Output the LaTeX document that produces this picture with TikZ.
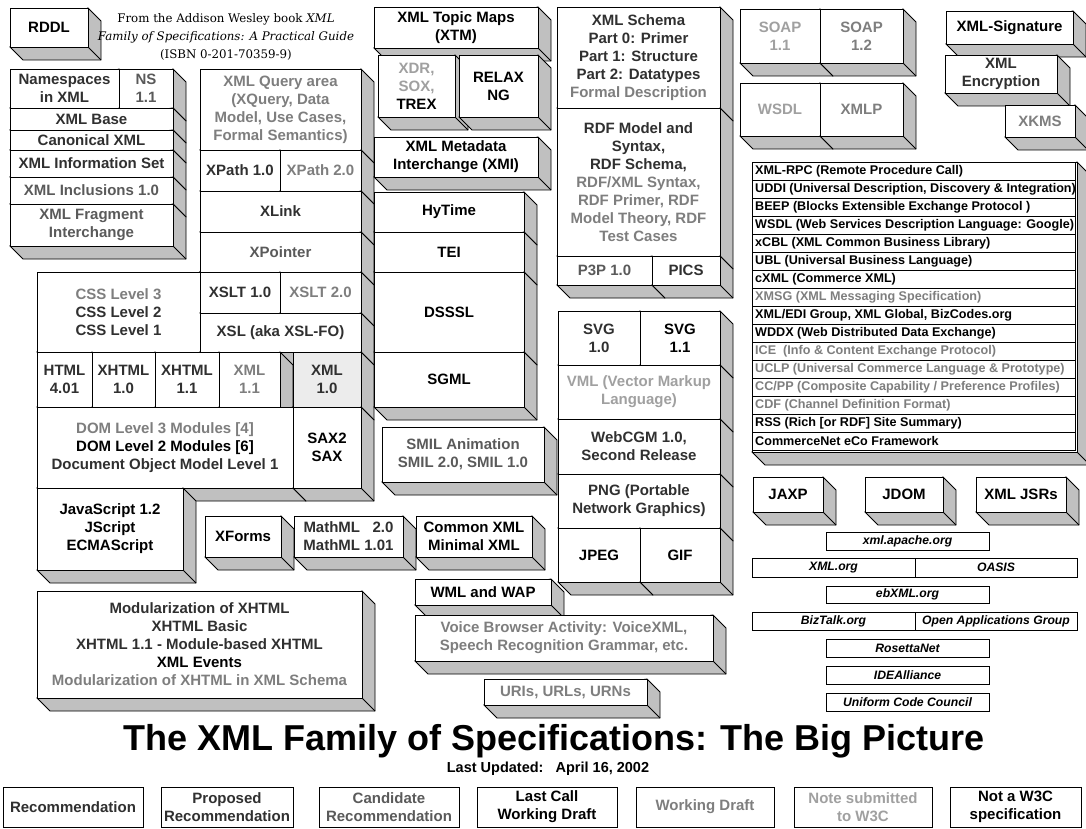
\documentclass[tikz,border=0pt]{standalone}
\usepackage{fontspec}
\setmainfont{Liberation Sans}
\newfontfamily\serifx{DejaVu Serif}
\definecolor{sidegray}{HTML}{C0C0C0}
\definecolor{rec}{HTML}{303030}
\definecolor{cand}{HTML}{5A5A5A}
\definecolor{wd}{HTML}{7E7E7E}
\definecolor{note}{HTML}{A0A0A0}
\definecolor{stip}{HTML}{ECECEC}
\newcommand\bfx{\fontsize{15}{18}\selectfont\bfseries}
\def\dd{13}
\tikzset{
  side/.style={fill=sidegray,draw=black,line width=0.9pt,line join=miter},
  edge/.style={draw=black,line width=0.9pt},
  face/.style={draw=black,fill=white,line width=0.9pt,anchor=north west,inner sep=1pt,outer sep=0pt,align=center,font=\bfx,text=black},
  flat/.style={draw=black,fill=white,line width=0.9pt,anchor=north west,inner sep=1pt,outer sep=0pt,align=center},
  orgtxt/.style={font=\fontsize{12.2}{14}\selectfont\bfseries\itshape},
  listtxt/.style={anchor=west,inner sep=0pt,font=\fontsize{12.6}{15}\selectfont\bfseries},
  rowline/.style={draw=black,line width=0.9pt}
}
\newcommand\cubebox[7][]{%
  \filldraw[side] (#5,#4) -- (#5+\dd,#4+\dd) -- (#5+\dd,#6+\dd) -- (#3+\dd,#6+\dd) -- (#3,#6) -- cycle;
  \draw[edge] (#5,#6) -- (#5+\dd,#6+\dd);
  \node[face,minimum width={(#5-#3)*1pt},minimum height={(#6-#4)*1pt},#1] (#2) at (#3,#4) {#7};
}
\newcommand\orgbox[6]{%
  \node[flat,orgtxt,minimum width={(#4-#2)*1pt},minimum height={(#5-#3)*1pt}] (#1) at (#2,#3) {#6};
}
\newcommand\legbox[5]{%
  \node[flat,font=\bfx,text=#4,minimum width={(#3-#2)*1pt},minimum height=40pt] (#1) at (#2,787) {#5};
}
\newcommand\lrow[4]{%
  \draw[rowline] (752,{162+18*#2}) rectangle (1075,{180+18*#2});
  \node[listtxt,text=#3] (#1) at (755,{171+18*#2}) {#4};
}
\begin{document}
\begin{tikzpicture}[x=1pt,y=-1pt]
\useasboundingbox[fill=white] (0,0) rectangle (1086,829);

% header
\cubebox{rddl}{10}{8}{88}{47}{RDDL}
\node[font=\serifx\fontsize{11.8}{18}\selectfont,align=center] (source) at (226,37)
  {From the Addison Wesley book \textit{XML}\\\textit{Family of Specifications: A Practical Guide}\\(ISBN 0-201-70359-9)};

% namespaces stack
\cubebox[text=rec]{ns}{10}{69}{119}{108}{Namespaces\\in XML}
\cubebox[text=cand]{ns11}{119}{69}{173}{108}{NS\\1.1}
\cubebox[text=rec]{base}{10}{108}{173}{130}{XML Base}
\cubebox[text=rec]{c14n}{10}{130}{173}{150}{Canonical XML}
\cubebox[text=rec]{infoset}{10}{150}{173}{177}{XML Information Set}
\cubebox[text=cand]{xinc}{10}{177}{173}{204}{XML Inclusions 1.0}
\cubebox[text=cand]{frag}{10}{204}{173}{246}{XML Fragment\\Interchange}

% query / xpath column and left block
\cubebox[text=wd]{xquery}{200}{69}{361}{150}{XML Query area\\(XQuery, Data\\Model, Use Cases,\\Formal Semantics)}
\cubebox[text=rec]{xpath1}{200}{150}{280}{191}{XPath 1.0}
\cubebox[text=wd]{xpath2}{280}{150}{361}{191}{XPath 2.0}
\cubebox[text=rec]{xlink}{200}{191}{361}{232}{XLink}
\cubebox[text=cand]{xpointer}{200}{232}{361}{272}{XPointer}
\cubebox[text=rec]{css}{37}{272}{200}{352}{\textcolor{wd}{CSS Level 3}\\CSS Level 2\\CSS Level 1}
\cubebox[text=rec]{xslt1}{200}{272}{280}{313}{XSLT 1.0}
\cubebox[text=wd]{xslt2}{280}{272}{361}{313}{XSLT 2.0}
\cubebox[text=rec]{xsl}{200}{313}{361}{352}{XSL (aka XSL-FO)}
\cubebox[text=rec]{html}{37}{352}{92}{407}{HTML\\4.01}
\cubebox[text=rec]{xhtml10}{92}{352}{155}{407}{XHTML\\1.0}
\cubebox[text=rec]{xhtml11}{155}{352}{219}{407}{XHTML\\1.1}
\cubebox[text=wd]{xml11}{219}{352}{280}{407}{XML\\1.1}
\cubebox[text=rec,fill=stip]{xml10}{293}{352}{361}{407}{XML\\1.0}
\cubebox{dom}{37}{407}{293}{488}{\textcolor{wd}{DOM Level 3 Modules [4]}\\DOM Level 2 Modules [6]\\\textcolor{rec}{Document Object Model Level 1}}
\cubebox{sax}{293}{407}{361}{488}{SAX2\\SAX}
\cubebox{js}{37}{488}{183}{570}{JavaScript 1.2\\JScript\\ECMAScript}
\cubebox{xforms}{205}{516}{281}{557}{XForms}
\cubebox[text=rec]{mathml}{294}{516}{403}{557}{MathML\ \ \ 2.0\\MathML 1.01}
\cubebox{commonxml}{416}{516}{532}{557}{Common XML\\Minimal XML}
\cubebox[text=rec]{modx}{37}{591}{362}{698}{Modularization of XHTML\\XHTML Basic\\XHTML 1.1 - Module-based XHTML\\\textcolor{black}{XML Events}\\\textcolor{wd}{Modularization of XHTML in XML Schema}}

% middle column
\cubebox{xtm}{374}{7}{538}{48}{XML Topic Maps\\(XTM)}
\cubebox{xdr}{378}{55}{455}{117}{\textcolor{note}{XDR,}\\\textcolor{note}{SOX,}\\TREX}
\cubebox{relax}{459}{55}{538}{117}{RELAX\\NG}
\cubebox{xmi}{374}{137}{538}{177}{XML Metadata\\Interchange (XMI)}
\cubebox{hytime}{374}{192}{524}{232}{HyTime}
\cubebox{tei}{374}{232}{524}{272}{TEI}
\cubebox{dsssl}{374}{272}{524}{352}{DSSSL}
\cubebox{sgml}{374}{352}{524}{407}{SGML}
\cubebox[text=cand]{smil}{382}{427}{544}{482}{SMIL Animation\\SMIL 2.0, SMIL 1.0}
\cubebox{wml}{415}{579}{551}{605}{WML and WAP}
\cubebox[text=wd]{voice}{415}{615}{713}{661}{Voice Browser Activity: VoiceXML,\\Speech Recognition Grammar, etc.}
\cubebox[text=wd]{uris}{484}{679}{647}{705}{URIs, URLs, URNs}

% schema / rdf column
\cubebox[text=rec]{schema}{557}{7}{720}{108}{XML Schema\\Part 0: Primer\\Part 1: Structure\\Part 2: Datatypes\\\textcolor{wd}{Formal Description}}
\cubebox[text=rec]{rdf}{557}{108}{720}{256}{RDF Model and\\Syntax,\\RDF Schema,\\\textcolor{wd}{RDF/XML Syntax,}\\\textcolor{wd}{RDF Primer, RDF}\\\textcolor{wd}{Model Theory, RDF}\\\textcolor{wd}{Test Cases}}
\cubebox[text=cand]{p3p}{557}{256}{652}{285}{P3P 1.0}
\cubebox[text=rec]{pics}{652}{256}{720}{285}{PICS}

% graphics column
\cubebox[text=rec]{svg10}{558}{311}{640}{365}{SVG\\1.0}
\cubebox{svg11}{640}{311}{720}{365}{SVG\\1.1}
\cubebox[text=note]{vml}{558}{365}{720}{419}{VML (Vector Markup\\Language)}
\cubebox[text=rec]{webcgm}{558}{419}{720}{474}{WebCGM 1.0,\\Second Release}
\cubebox[text=rec]{png}{558}{474}{720}{528}{PNG (Portable\\Network Graphics)}
\cubebox{jpeg}{558}{528}{640}{582}{JPEG}
\cubebox{gif}{640}{528}{720}{582}{GIF}

% web services / security
\cubebox[text=note]{soap11}{740}{9}{820}{63}{SOAP\\1.1}
\cubebox[text=wd]{soap12}{820}{9}{903}{63}{SOAP\\1.2}
\cubebox[text=note]{wsdl}{740}{83}{820}{136}{WSDL}
\cubebox[text=wd]{xmlp}{820}{83}{903}{136}{XMLP}
\cubebox{xmlsig}{946}{11}{1073}{44}{XML-Signature}
\cubebox[text=rec]{xmlenc}{945}{55}{1057}{93}{XML\\Encryption}
\cubebox[text=wd]{xkms}{1005}{105}{1075}{137}{XKMS}

% list of non-W3C specs
\cubebox{listbox}{752}{162}{1077}{452}{}
\begin{scope}
\clip (752,162) rectangle (1076,452);
\lrow{rpc}{0}{black}{XML-RPC (Remote Procedure Call)}
\lrow{uddi}{1}{black}{UDDI (Universal Description, Discovery \& Integration)}
\lrow{beep}{2}{black}{BEEP (Blocks Extensible Exchange Protocol )}
\lrow{wsdlg}{3}{black}{WSDL (Web Services Description Language: Google)}
\lrow{xcbl}{4}{black}{xCBL (XML Common Business Library)}
\lrow{ubl}{5}{black}{UBL (Universal Business Language)}
\lrow{cxml}{6}{black}{cXML (Commerce XML)}
\lrow{xmsg}{7}{wd}{XMSG (XML Messaging Specification)}
\lrow{edi}{8}{black}{XML/EDI Group, XML Global, BizCodes.org}
\lrow{wddx}{9}{black}{WDDX (Web Distributed Data Exchange)}
\lrow{ice}{10}{wd}{ICE\ \ (Info \& Content Exchange Protocol)}
\lrow{uclp}{11}{wd}{UCLP (Universal Commerce Language \& Prototype)}
\lrow{ccpp}{12}{wd}{CC/PP (Composite Capability / Preference Profiles)}
\lrow{cdf}{13}{wd}{CDF (Channel Definition Format)}
\lrow{rss}{14}{black}{RSS (Rich [or RDF] Site Summary)}
\lrow{eco}{15}{black}{CommerceNet eCo Framework}
\end{scope}

% java
\cubebox{jaxp}{753}{477}{823}{512}{JAXP}
\cubebox{jdom}{865}{477}{943}{512}{JDOM}
\cubebox{jsrs}{976}{477}{1066}{512}{XML JSRs}

% organisations
\orgbox{apache}{826}{532}{989}{550}{xml.apache.org}
\orgbox{xmlorg}{752}{558}{915}{577}{XML.org}
\orgbox{oasis}{915}{558}{1077}{577}{OASIS}
\orgbox{ebxml}{826}{586}{989}{603}{ebXML.org}
\orgbox{biztalk}{752}{612}{915}{630}{BizTalk.org}
\orgbox{oag}{915}{612}{1077}{630}{Open Applications Group}
\orgbox{rosetta}{826}{639}{989}{657}{RosettaNet}
\orgbox{idea}{826}{666}{989}{684}{IDEAlliance}
\orgbox{ucc}{826}{693}{989}{711}{Uniform Code Council}

% title
\node[font=\fontsize{36}{40}\selectfont\bfseries,anchor=base,inner sep=0pt] (title) at (554,750) {The XML Family of Specifications: The Big Picture};
\node[font=\fontsize{14.5}{16}\selectfont\bfseries] (updated) at (548,769) {Last Updated:\ \ \ April 16, 2002};

% legend
\legbox{lrec}{3}{143}{rec}{Recommendation}
\legbox{lprop}{161}{293}{rec}{Proposed\\Recommendation}
\legbox{lcand}{319}{459}{cand}{Candidate\\Recommendation}
\legbox{llc}{477}{617}{black}{Last Call\\Working Draft}
\legbox{lwd}{636}{774}{wd}{Working Draft}
\legbox{lnote}{794}{932}{note}{Note submitted\\to W3C}
\legbox{lnot}{950}{1081}{black}{Not a W3C\\specification}
\end{tikzpicture}
\end{document}
